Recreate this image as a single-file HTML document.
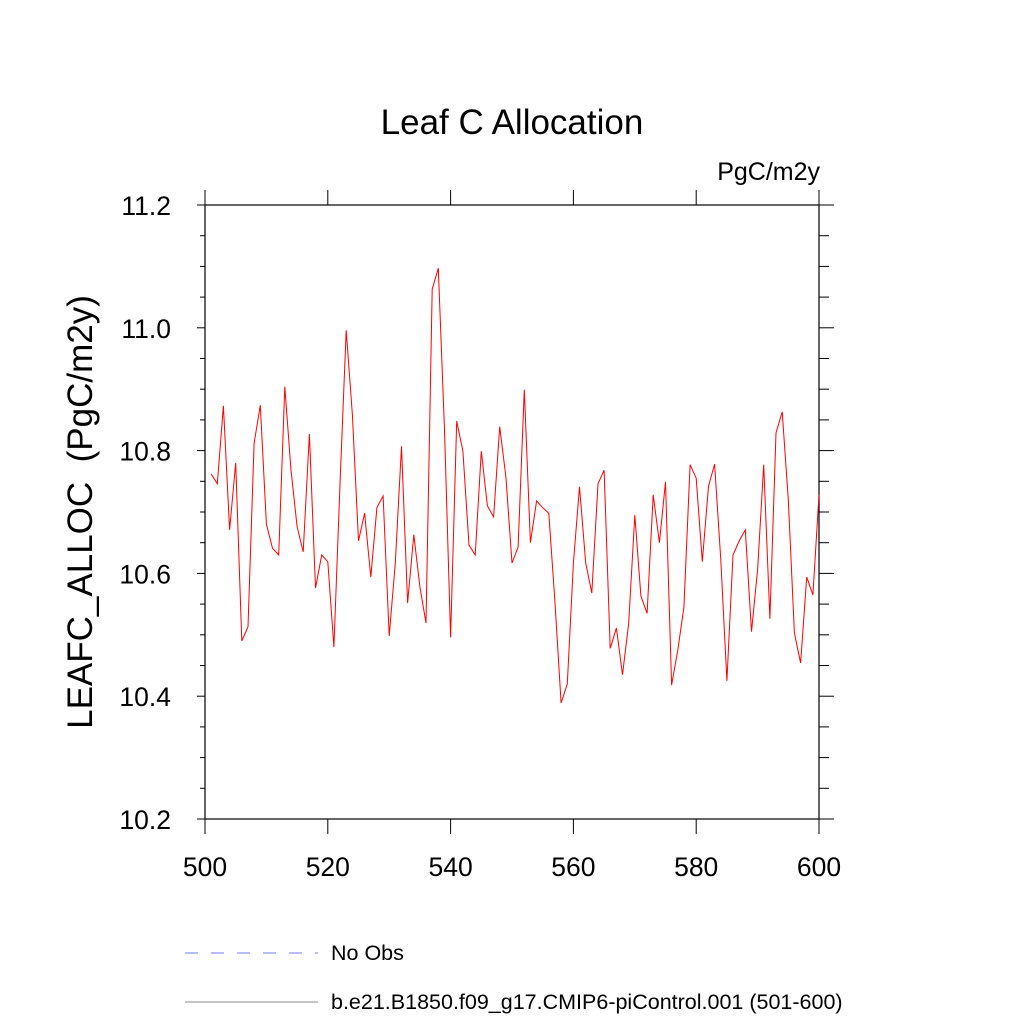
<!DOCTYPE html>
<html><head><meta charset="utf-8"><style>
html,body{margin:0;padding:0;background:#fff;}
svg text{font-family:"Liberation Sans",sans-serif;fill:#000;}
</style></head><body>
<svg id="chart" width="1024" height="1024" xmlns="http://www.w3.org/2000/svg">
<text x="512" y="134" font-size="35" text-anchor="middle">Leaf C Allocation</text>
<text x="820" y="180" font-size="25" text-anchor="end">PgC/m2y</text>
<text transform="translate(92,512) rotate(-90)" font-size="35" text-anchor="middle" xml:space="preserve">LEAFC_ALLOC  (PgC/m2y)</text>
<g id="axes"></g>
<g id="series"></g>
<g>
<line x1="185" y1="953" x2="318" y2="953" stroke="#7777ff" stroke-width="1" stroke-dasharray="13,13"/>
<text x="331" y="960" font-size="21.5">No Obs</text>
<line x1="185" y1="1002" x2="318" y2="1002" stroke="#888" stroke-width="1"/>
<text x="331" y="1009" font-size="21.5">b.e21.B1850.f09_g17.CMIP6-piControl.001 (501-600)</text>
</g>
</svg>
<script>
const years = [];
for (let y = 501; y <= 600; y++) years.push(y);
const values = [10.762,10.746,10.873,10.671,10.780,10.490,10.513,10.812,10.874,10.680,
10.641,10.630,10.904,10.768,10.676,10.635,10.827,10.576,10.630,10.619,
10.480,10.750,10.996,10.858,10.653,10.698,10.594,10.707,10.726,10.498,
10.617,10.807,10.552,10.663,10.578,10.519,11.063,11.097,10.834,10.496,
10.848,10.799,10.646,10.630,10.799,10.710,10.692,10.839,10.757,10.617,
10.643,10.899,10.650,10.718,10.707,10.698,10.552,10.389,10.420,10.617,
10.741,10.617,10.568,10.746,10.768,10.478,10.511,10.435,10.519,10.695,
10.563,10.535,10.728,10.650,10.749,10.418,10.475,10.545,10.777,10.755,
10.619,10.742,10.778,10.622,10.425,10.630,10.653,10.671,10.505,10.606,
10.777,10.526,10.829,10.863,10.720,10.503,10.454,10.594,10.565,10.728];
const xTicks = [500,520,540,560,580,600];
const yTicks = [10.2,10.4,10.6,10.8,11.0,11.2];
const yTickLabels = ["10.2","10.4","10.6","10.8","11.0","11.2"];

const L=205,R=819,T=205,B=819;
const xs = v => L + (v-500)/100*(R-L);
const ys = v => B - (v-10.2)/1.0*(B-T);
const NS="http://www.w3.org/2000/svg";
const axes=document.getElementById('axes');
function mk(tag,attrs,parent){const e=document.createElementNS(NS,tag);for(const k in attrs)e.setAttribute(k,attrs[k]);parent.appendChild(e);return e;}

const frame=mk('rect',{x:L,y:T,width:R-L,height:B-T,fill:'none',stroke:'#000','stroke-width':1.2},axes);



xTicks.forEach(v=>{
  const x=xs(v);
  const t1=mk('line',{x1:x,y1:B,x2:x,y2:B+15,stroke:'#000','stroke-width':1},axes);
  
  
  const t2=mk('line',{x1:x,y1:T,x2:x,y2:T-15,stroke:'#000','stroke-width':1},axes);
  
  
});
for(let i=0;i<=20;i++){
  const v=10.2+i*0.05, major=(i%4===0), len=major?8:5, y=ys(v);
  const t1=mk('line',{x1:L,y1:y,x2:L-len,y2:y,stroke:'#000','stroke-width':1},axes);
  
  
  const t2=mk('line',{x1:R,y1:y,x2:R+(major?15:10),y2:y,stroke:'#000','stroke-width':1},axes);
  
  
}
xTicks.forEach(v=>{
  const t=mk('text',{x:xs(v),y:876,'font-size':26.5,'text-anchor':'middle'},axes);
  t.textContent=v;
  
  
});
yTicks.forEach((v,i)=>{
  const t=mk('text',{x:171,y:ys(v)+10,'font-size':26.5,'text-anchor':'end'},axes);
  t.textContent=yTickLabels[i];
  
  
});
const pts=years.map((yr,i)=>xs(yr).toFixed(1)+','+ys(values[i]).toFixed(1)).join(' ');
const line=mk('polyline',{points:pts,fill:'none',stroke:'#ff0000','stroke-width':1},document.getElementById('series'));


</script>
</body></html>
